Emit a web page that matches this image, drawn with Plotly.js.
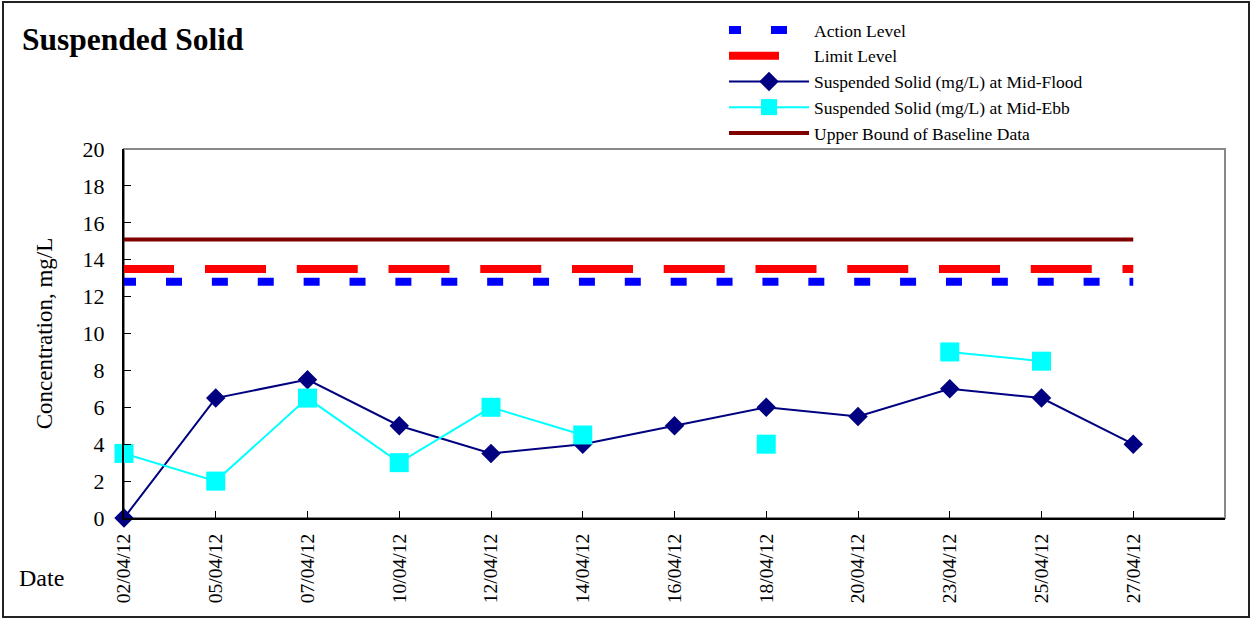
<!DOCTYPE html>
<html>
<head>
<meta charset="utf-8">
<script src="https://cdn.plot.ly/plotly-3.0.1.min.js"></script>
<style>html,body{margin:0;padding:0;background:#fff;}#chart{width:1252px;height:619px;}</style>
</head>
<body>
<div id="chart"></div>
<script>
// ---- data ----
const dates = ["02/04/12","05/04/12","07/04/12","10/04/12","12/04/12","14/04/12","16/04/12","18/04/12","20/04/12","23/04/12","25/04/12","27/04/12"];
const midFlood = [0, 6.5, 7.5, 5, 3.5, 4, 5, 6, 5.5, 7, 6.5, 4];
const midEbb = [3.5, 2, 6.5, 3, 6, 4.5, null, 4, null, 9, 8.5, null];
const actionLevel = 12.8;
const limitLevel = 13.5;
const upperBound = 15.1;

// ---- layout geometry ----
const W = 1252, H = 619, L = 124, R = 27, T = 149, B = 101;
const pw = W - L - R, ph = H - T - B;
const idx = dates.map((d, i) => i);
const step = pw / 12;

function repeatDash(first, firstGap, dash, gap, n) {
  const parts = [first + 'px', firstGap + 'px'];
  for (let i = 0; i < n; i++) { parts.push(dash.toFixed(2) + 'px', gap.toFixed(2) + 'px'); }
  return parts.join(',');
}
const redDash = repeatDash(50, 31, 61, step - 61, 12);
const blueDash = repeatDash(12, 30, 16, step / 2 - 16, 24);

const serif = "Liberation Serif, Times New Roman, serif";

const traces = [
  { x: idx, y: dates.map(() => actionLevel), name: "Action Level", mode: "lines",
    line: { color: "#0000FF", width: 8, dash: blueDash }, hoverinfo: "skip" },
  { x: idx, y: dates.map(() => limitLevel), name: "Limit Level", mode: "lines",
    line: { color: "#FF0000", width: 8, dash: redDash }, hoverinfo: "skip" },
  { x: idx, y: midFlood, name: "Suspended Solid (mg/L) at Mid-Flood", mode: "lines+markers", cliponaxis: false,
    line: { color: "#000080", width: 2 }, marker: { symbol: "diamond", size: 15, color: "#000080" } },
  { x: idx, y: midEbb, name: "Suspended Solid (mg/L) at Mid-Ebb", mode: "lines+markers", connectgaps: false, cliponaxis: false,
    line: { color: "#00FFFF", width: 2 }, marker: { symbol: "square", size: 19, color: "#00FFFF" } },
  { x: idx, y: dates.map(() => upperBound), name: "Upper Bound of Baseline Data", mode: "lines",
    line: { color: "#800000", width: 4 }, hoverinfo: "skip" }
];

const layout = {
  width: W, height: H,
  margin: { l: L, r: R, t: T, b: B, pad: 0 },
  paper_bgcolor: "#fff", plot_bgcolor: "#fff",
  font: { family: serif, size: 19, color: "#000" },
  showlegend: true,
  title: { text: "<b>Suspended Solid</b>", font: { family: serif, size: 31.5, color: "#000" },
    xref: "container", yref: "container", x: 22 / W, xanchor: "left", y: (H - 39) / H, yanchor: "middle" },
  xaxis: {
    range: [0, 12], tickvals: idx, ticktext: dates, tickangle: -90,
    showgrid: false, zeroline: false, showline: true, linecolor: "#000", linewidth: 2,
    ticks: "inside", ticklen: 7, tickcolor: "#000", tickwidth: 1,
    tickfont: { family: serif, size: 19.5, color: "#000" }, ticklabelstandoff: 6
  },
  yaxis: {
    range: [0, 20], dtick: 2, tick0: 0,
    showgrid: false, zeroline: false, showline: true, linecolor: "#000", linewidth: 2,
    ticks: "inside", ticklen: 7, tickcolor: "#000", tickwidth: 1,
    tickfont: { family: serif, size: 22, color: "#000" }, ticklabelstandoff: 13,
    title: { text: "Concentration, mg/L", font: { family: serif, size: 23, color: "#000" }, standoff: 24 }
  },
  legend: {
    x: (724 - L) / pw, xanchor: "left", y: (H - 12 - B) / ph, yanchor: "top",
    bgcolor: "rgba(0,0,0,0)", borderwidth: 0, itemwidth: 80,
    font: { family: serif, size: 17.5, color: "#000" }, tracegroupgap: 0, itemclick: false
  },
  annotations: [
    { text: "Date", xref: "paper", yref: "paper", x: (17 - L) / pw, xanchor: "left",
      y: (H - 578 - B) / ph, yanchor: "middle", showarrow: false,
      font: { family: serif, size: 24, color: "#000" } }
  ],
  shapes: [
    { type: "rect", xref: "paper", yref: "paper", x0: 0, x1: 1, y0: 0, y1: 1,
      line: { color: "#888", width: 2 }, layer: "below" },
    { type: "rect", xref: "paper", yref: "paper",
      x0: (3 - L) / pw, x1: (1249 - L) / pw, y0: (2 - B) / ph, y1: (617 - B) / ph,
      line: { color: "#222", width: 2 }, layer: "below" }
  ]
};

Plotly.newPlot("chart", traces, layout, { displayModeBar: false, staticPlot: true });
</script>
</body>
</html>
